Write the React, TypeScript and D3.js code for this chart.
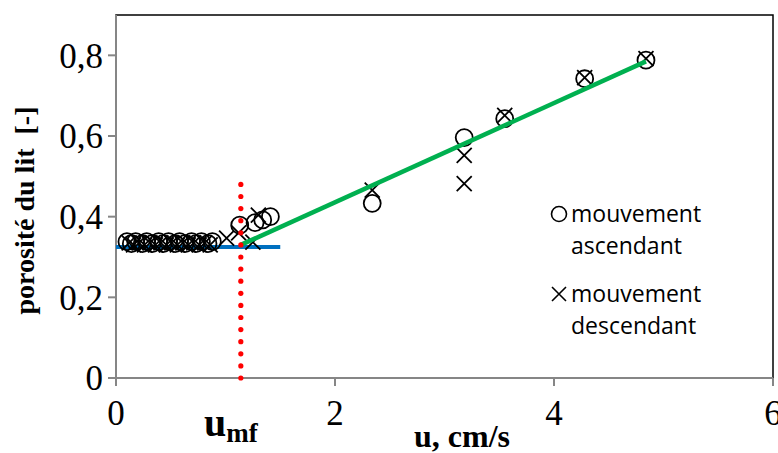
import React from "react";
import * as d3 from "d3";

const ascX = [0.10, 0.14, 0.18, 0.24, 0.28, 0.33, 0.39, 0.43, 0.48, 0.54, 0.58, 0.63, 0.69, 0.73, 0.78, 0.84, 0.88, 1.13, 1.27, 1.34, 1.41, 2.34, 3.18, 3.55, 4.28, 4.84];
const ascY = [0.338, 0.333, 0.338, 0.333, 0.338, 0.333, 0.338, 0.333, 0.338, 0.333, 0.338, 0.333, 0.338, 0.333, 0.338, 0.333, 0.338, 0.379, 0.385, 0.392, 0.400, 0.433, 0.596, 0.643, 0.742, 0.788];
const descX = [0.12, 0.16, 0.21, 0.26, 0.31, 0.36, 0.41, 0.46, 0.51, 0.56, 0.61, 0.66, 0.71, 0.76, 0.81, 0.86, 1.01, 1.12, 1.25, 1.30, 2.34, 3.18, 3.18, 3.55, 4.28, 4.84];
const descY = [0.335, 0.33, 0.335, 0.33, 0.335, 0.33, 0.335, 0.33, 0.335, 0.33, 0.335, 0.33, 0.335, 0.33, 0.335, 0.33, 0.347, 0.36, 0.337, 0.404, 0.466, 0.552, 0.482, 0.651, 0.745, 0.792];
const fixedLineX = [0.0, 1.5];
const fixedLineY = [0.325, 0.325];
const fluidLineX = [1.14, 4.84];
const fluidLineY = [0.33, 0.785];
const umf = 1.14;
const umfTop = 0.478;
const xTicks = [0, 2, 4, 6];
const yTicks = [0, 0.2, 0.4, 0.6, 0.8];
const legendLabels = [["mouvement", "ascendant"], ["mouvement", "descendant"]];

const W = 778, H = 453;
const L = 116, R = 773, T = 15, B = 378;

export default function App() {
  const x = d3.scaleLinear().domain([0, 6]).range([L, R]);
  const y = d3.scaleLinear().domain([0, 0.9]).range([B, T]);
  const line = d3.line<[number, number]>().x(d => x(d[0])).y(d => y(d[1]));
  const fmt = (v: number) => String(v).replace(".", ",");
  const dots = d3.range(0, 17).map(i => y(0) - i * 12.1).filter(v => v >= y(umfTop) - 1);
  const serif = "'Liberation Serif', 'Times New Roman', serif";
  const sans = "'Open Sans', 'Noto Sans', sans-serif";
  const cr = 8.5;
  const xs = 7.5;
  return (
    <svg width={W} height={H} style={{ position: "fixed", left: 0, top: 0, background: "#fff" }}>
      <rect x={0} y={0} width={W} height={H} fill="#fff" />
      <rect x={L} y={T} width={R - L} height={B - T} fill="none" stroke="#000" strokeWidth={1.5} />
      {/* axes */}
      <line x1={L} x2={L} y1={T} y2={B} stroke="#868686" strokeWidth={2} />
      <line x1={L - 7} x2={R} y1={B} y2={B} stroke="#868686" strokeWidth={2} />
      {yTicks.map(t => (
        <g key={"y" + t}>
          <line x1={L - 8} x2={L} y1={y(t)} y2={y(t)} stroke="#868686" strokeWidth={2} />
          <text x={L - 13} y={y(t)} dy="0.35em" textAnchor="end" fontFamily={serif} fontSize={35}>{fmt(t)}</text>
        </g>
      ))}
      {xTicks.map(t => (
        <g key={"x" + t}>
          <line x1={x(t)} x2={x(t)} y1={B} y2={B + 8} stroke="#868686" strokeWidth={2} />
          <text x={x(t)} y={B + 47} textAnchor="middle" fontFamily={serif} fontSize={35}>{fmt(t)}</text>
        </g>
      ))}
      {/* fit lines */}
      <path d={line(fixedLineX.map((v, i) => [v, fixedLineY[i]]) as any) || ""} stroke="#0070C0" strokeWidth={4} fill="none" />
      {/* markers */}
      {ascX.map((v, i) => (
        <circle key={"a" + i} cx={x(v)} cy={y(ascY[i])} r={cr} fill="none" stroke="#000" strokeWidth={1.8} />
      ))}
      {descX.map((v, i) => {
        const cx = x(v), cy = y(descY[i]);
        return (
          <path key={"d" + i} d={`M${cx - xs},${cy - xs}L${cx + xs},${cy + xs}M${cx - xs},${cy + xs}L${cx + xs},${cy - xs}`} stroke="#000" strokeWidth={1.8} fill="none" />
        );
      })}
      <path d={line(fluidLineX.map((v, i) => [v, fluidLineY[i]]) as any) || ""} stroke="#00B050" strokeWidth={4.5} fill="none" />
      {dots.map((cy, i) => (
        <circle key={"r" + i} cx={x(umf)} cy={cy} r={2.6} fill="#FF0000" />
      ))}
      {/* legend */}
      <circle cx={559} cy={214} r={7.5} fill="none" stroke="#000" strokeWidth={1.6} />
      <text x={571} y={222} fontFamily={sans} fontSize={23}>{legendLabels[0][0]}</text>
      <text x={571} y={254} fontFamily={sans} fontSize={23}>{legendLabels[0][1]}</text>
      <path d={`M552,287L566,301M552,301L566,287`} stroke="#000" strokeWidth={1.6} />
      <text x={571} y={302} fontFamily={sans} fontSize={23}>{legendLabels[1][0]}</text>
      <text x={571} y={334} fontFamily={sans} fontSize={23}>{legendLabels[1][1]}</text>
      {/* titles */}
      <text transform={`translate(34,${(T + B) / 2 + 14}) rotate(-90)`} textAnchor="middle" fontFamily={serif} fontWeight="bold" fontSize={28} style={{ whiteSpace: "pre" }}>porosité du lit  [-]</text>
      <text x={462} y={447} textAnchor="middle" fontFamily={serif} fontWeight="bold" fontSize={32}>u, cm/s</text>
      <text x={204} y={436} fontFamily={serif} fontWeight="bold" fontSize={40}>u<tspan fontSize={27} dy={6}>mf</tspan></text>
    </svg>
  );
}
